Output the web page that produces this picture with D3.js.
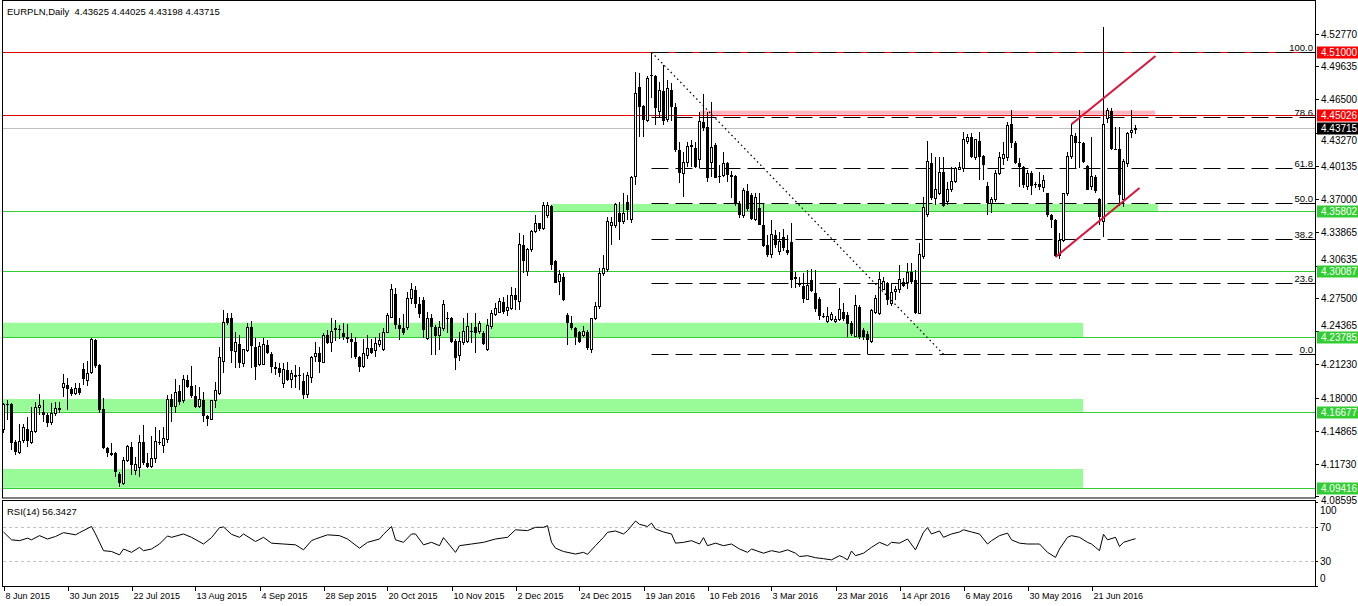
<!DOCTYPE html>
<html><head><meta charset="utf-8">
<script src="https://cdn.jsdelivr.net/npm/d3@7/dist/d3.min.js"></script>
<style>
body{margin:0;background:#fff;}
svg{display:block;font-family:"Liberation Sans",Arial,sans-serif;}
</style>
</head><body>
<svg id="chart" width="1358" height="606"></svg>
<script>
// ---------------- DATA ----------------
const titleText = "EURPLN,Daily";
const lastQuote = ["4.43625", "4.44025", "4.43198", "4.43715"];

const open = [4.1500,4.1745,4.1742,4.1376,4.1278,4.1392,4.1500,4.1373,4.1478,4.1710,4.1666,4.1637,4.1564,4.1653,4.1690,4.1901,4.1923,4.1888,4.1844,4.1891,
4.2076,4.1964,4.2041,4.2352,4.2111,4.1691,4.1319,4.1278,4.1271,4.1074,4.0979,4.1201,4.1328,4.1106,4.1138,4.1376,4.1179,4.1144,4.1224,4.1382,
4.1347,4.1405,4.1786,4.1716,4.1866,4.1774,4.1971,4.1917,4.1821,4.1716,4.1780,4.1627,4.1596,4.1771,4.1844,4.2146,4.2559,4.2559,4.2241,4.2314,
4.2130,4.2251,4.2473,4.2289,4.2114,4.2123,4.2305,4.2219,4.2098,4.2082,4.1939,4.2066,4.1977,4.2015,4.2018,4.1961,4.1828,4.1996,4.2193,4.2225,
4.2139,4.2400,4.2327,4.2458,4.2461,4.2416,4.2384,4.2359,4.2333,4.2187,4.2104,4.2209,4.2273,4.2251,4.2314,4.2257,4.2426,4.2570,4.2790,4.2496,
4.2464,4.2473,4.2750,4.2830,4.2700,4.2734,4.2368,4.2559,4.2473,4.2391,4.2464,4.2565,4.2560,4.2340,4.2200,4.2330,4.2338,4.2443,4.2481,4.2433,
4.2417,4.2258,4.2481,4.2592,4.2614,4.2719,4.2633,4.2656,4.2783,4.2719,4.3260,4.3005,4.3212,4.3387,4.3467,4.3419,4.3537,4.3632,4.3107,4.2910,
4.2958,4.2592,4.2513,4.2465,4.2424,4.2392,4.2433,4.2264,4.2560,4.2672,4.2983,4.3021,4.3441,4.3441,4.3562,4.3482,4.3673,4.3500,4.3913,4.4771,
4.4587,4.4444,4.4880,4.4876,4.4533,4.4730,4.4453,4.4740,4.4581,4.4167,4.3945,4.4050,4.4215,4.4183,4.4078,4.4437,4.4390,4.4050,4.4215,4.3922,
4.3919,4.4040,4.3929,4.3919,4.3650,4.3537,4.3775,4.3740,4.3505,4.3610,4.3451,4.3260,4.3164,4.3355,4.3196,4.3340,4.3212,4.3292,4.2950,4.2894,
4.2869,4.2742,4.2926,4.2805,4.2742,4.2586,4.2529,4.2551,4.2529,4.2544,4.2624,4.2592,4.2519,4.2385,4.2672,4.2449,4.2411,4.2338,4.2614,4.2608,
4.2830,4.2894,4.2697,4.2814,4.2830,4.2910,4.2900,4.3005,4.2926,4.2608,4.3148,4.3547,4.4040,4.3706,4.3747,4.3954,4.3674,4.3785,4.3865,4.3983,
4.3992,4.4246,4.4294,4.4097,4.4256,4.4110,4.3824,4.3658,4.3690,4.3938,4.4087,4.4097,4.4415,4.4230,4.4046,4.4001,4.3817,4.3944,4.3840,4.3840,
4.3811,4.3753,4.3546,4.3498,4.3155,4.3307,4.3747,4.4103,4.4300,4.4240,4.4237,4.4014,4.3817,4.3912,4.3696,4.3480,4.4469,4.4542,4.4180,4.4174,
4.3690,4.4040,4.4332,4.43625];
const high = [4.1748,4.1780,4.1748,4.1400,4.1551,4.1551,4.1621,4.1710,4.1764,4.1834,4.1780,4.1660,4.1748,4.1764,4.1764,4.2028,4.1987,4.1900,4.1939,4.1945,
4.2130,4.2152,4.2368,4.2362,4.2120,4.1796,4.1330,4.1367,4.1280,4.1090,4.1239,4.1351,4.1383,4.1239,4.1446,4.1542,4.1271,4.1437,4.1526,4.1494,
4.1526,4.1828,4.1837,4.1977,4.1923,4.2019,4.2019,4.2104,4.1923,4.1907,4.1859,4.1640,4.1780,4.1955,4.2289,4.2639,4.2607,4.2607,4.2432,4.2400,
4.2270,4.2511,4.2537,4.2368,4.2337,4.2368,4.2352,4.2241,4.2146,4.2130,4.2130,4.2146,4.2066,4.2114,4.2098,4.2034,4.2050,4.2200,4.2337,4.2289,
4.2416,4.2448,4.2559,4.2543,4.2496,4.2511,4.2505,4.2416,4.2384,4.2200,4.2359,4.2400,4.2359,4.2384,4.2416,4.2464,4.2613,4.2890,4.2850,4.2560,
4.2600,4.2810,4.2900,4.2870,4.2760,4.2760,4.2620,4.2600,4.2500,4.2537,4.2734,4.2620,4.2576,4.2360,4.2430,4.2560,4.2608,4.2513,4.2608,4.2529,
4.2440,4.2551,4.2640,4.2710,4.2751,4.2761,4.2783,4.2856,4.2847,4.3371,4.3355,4.3230,4.3403,4.3546,4.3473,4.3673,4.3673,4.3642,4.3117,4.3021,
4.2990,4.2610,4.2583,4.2480,4.2440,4.2487,4.2450,4.2567,4.2719,4.3037,4.3164,4.3530,4.3530,4.3657,4.3673,4.3753,4.3740,4.3920,4.4915,4.4899,
4.4600,4.4876,4.5100,4.4883,4.4819,4.4978,4.4835,4.4803,4.4612,4.4247,4.4151,4.4247,4.4263,4.4247,4.4533,4.4698,4.4533,4.4628,4.4230,4.4024,
4.4151,4.4056,4.3967,4.3929,4.3680,4.3800,4.3840,4.3760,4.3754,4.3760,4.3657,4.3355,4.3498,4.3400,4.3387,4.3410,4.3355,4.3467,4.3000,4.2950,
4.2990,4.3021,4.3028,4.3021,4.2760,4.2608,4.2672,4.2620,4.2580,4.2847,4.2703,4.2624,4.2530,4.2783,4.2690,4.2470,4.2440,4.2650,4.2783,4.3005,
4.2951,4.2910,4.2894,4.2870,4.3069,4.2942,4.3085,4.3085,4.3021,4.3276,4.3722,4.4256,4.4135,4.4103,4.4103,4.4103,4.3865,4.4008,4.4008,4.4056,
4.4342,4.4319,4.4326,4.4269,4.4342,4.4119,4.3860,4.3722,4.3976,4.4151,4.4246,4.4430,4.4548,4.4250,4.4087,4.4010,4.3976,4.3967,4.3865,4.3960,
4.3928,4.3760,4.3560,4.3510,4.3377,4.3760,4.4151,4.4412,4.4326,4.4548,4.4246,4.4024,4.4294,4.3930,4.3710,4.5343,4.4564,4.4564,4.4383,4.4383,
4.4080,4.4342,4.4548,4.44025];
const low = [4.1462,4.1589,4.1303,4.1252,4.1265,4.1370,4.1335,4.1360,4.1462,4.1637,4.1573,4.1526,4.1540,4.1630,4.1653,4.1812,4.1685,4.1818,4.1830,4.1830,
4.1923,4.1914,4.2030,4.2082,4.1659,4.1310,4.1239,4.1245,4.1049,4.0953,4.0969,4.1190,4.1065,4.1065,4.1049,4.1160,4.1130,4.1134,4.1182,4.1351,
4.1278,4.1367,4.1573,4.1659,4.1732,4.1748,4.1890,4.1796,4.1700,4.1700,4.1573,4.1532,4.1589,4.1700,4.1830,4.2041,4.2500,4.2130,4.2082,4.2082,
4.2098,4.2240,4.2082,4.1971,4.2100,4.2110,4.2220,4.2041,4.2019,4.2003,4.1891,4.1960,4.1891,4.1891,4.1875,4.1790,4.1796,4.1945,4.2146,4.2041,
4.2130,4.2310,4.2241,4.2346,4.2359,4.2353,4.2321,4.2178,4.2168,4.2050,4.2082,4.2168,4.2220,4.2194,4.2289,4.2250,4.2420,4.2560,4.2454,4.2353,
4.2400,4.2450,4.2700,4.2660,4.2560,4.2368,4.2353,4.2209,4.2209,4.2257,4.2440,4.2416,4.2322,4.2066,4.2150,4.2300,4.2320,4.2322,4.2226,4.2410,
4.2306,4.2252,4.2460,4.2580,4.2608,4.2600,4.2583,4.2640,4.2640,4.2640,4.2990,4.2967,4.3190,4.3370,4.3390,4.3400,4.3520,4.3021,4.2894,4.2783,
4.2729,4.2306,4.2450,4.2306,4.2322,4.2380,4.2258,4.2226,4.2540,4.2650,4.2960,4.3000,4.3260,4.3420,4.3308,4.3460,4.3500,4.3470,4.3833,4.4294,
4.4294,4.4437,4.4660,4.4406,4.4485,4.4406,4.4437,4.4444,4.4151,4.3849,4.3722,4.4008,4.4008,4.3992,4.3992,4.4349,4.3865,4.3913,4.3897,4.3849,
4.3913,4.3865,4.3706,4.3630,4.3514,4.3520,4.3580,4.3498,4.3490,4.3451,4.3244,4.3142,4.3133,4.3230,4.3164,4.3200,4.3164,4.2847,4.2850,4.2860,
4.2710,4.2735,4.2815,4.2624,4.2544,4.2560,4.2510,4.2530,4.2510,4.2529,4.2530,4.2385,4.2390,4.2385,4.2360,4.2354,4.2216,4.2328,4.2600,4.2590,
4.2830,4.2687,4.2678,4.2735,4.2799,4.2862,4.2837,4.2890,4.2602,4.2602,4.3123,4.3531,4.3690,4.3642,4.3738,4.3626,4.3642,4.3769,4.3849,4.3976,
4.3960,4.4220,4.4088,4.4071,4.3881,4.3881,4.3547,4.3563,4.3674,4.3928,4.4024,4.4060,4.4183,4.4033,4.3817,4.3801,4.3785,4.3738,4.3801,4.3785,
4.3769,4.3530,4.3419,4.3142,4.3123,4.3291,4.3730,4.4080,4.3992,4.3992,4.4040,4.3785,4.3785,4.3753,4.3450,4.3340,4.4420,4.4167,4.4167,4.3630,
4.3626,4.4008,4.4278,4.43198];
const close = [4.1732,4.1735,4.1373,4.1287,4.1386,4.1513,4.1392,4.1478,4.1710,4.1729,4.1634,4.1557,4.1653,4.1697,4.1697,4.1939,4.1882,4.1837,4.1891,4.1844,
4.1977,4.2034,4.2359,4.2108,4.1685,4.1319,4.1278,4.1255,4.1096,4.0991,4.1201,4.1335,4.1157,4.1166,4.1373,4.1176,4.1144,4.1224,4.1386,4.1370,
4.1414,4.1786,4.1716,4.1853,4.1764,4.1971,4.1907,4.1818,4.1710,4.1780,4.1631,4.1596,4.1771,4.1866,4.2187,4.2518,4.2518,4.2251,4.2327,4.2136,
4.2257,4.2473,4.2295,4.2098,4.2289,4.2305,4.2232,4.2092,4.2079,4.2034,4.2066,4.1971,4.2028,4.2018,4.2012,4.1828,4.2009,4.2187,4.2225,4.2146,
4.2400,4.2327,4.2432,4.2464,4.2458,4.2384,4.2359,4.2333,4.2187,4.2098,4.2225,4.2273,4.2232,4.2321,4.2346,4.2426,4.2585,4.2830,4.2496,4.2454,
4.2423,4.2750,4.2830,4.2700,4.2600,4.2448,4.2559,4.2473,4.2391,4.2473,4.2696,4.2555,4.2338,4.2180,4.2340,4.2433,4.2481,4.2436,4.2417,4.2506,
4.2316,4.2487,4.2602,4.2656,4.2719,4.2624,4.2665,4.2773,4.2735,4.3260,4.3107,4.3212,4.3387,4.3467,4.3410,4.3632,4.3632,4.3069,4.2900,4.2974,
4.2735,4.2513,4.2465,4.2385,4.2338,4.2433,4.2274,4.2560,4.2672,4.2983,4.3037,4.3482,4.3473,4.3642,4.3476,4.3562,4.3594,4.3900,4.4708,4.4581,
4.4453,4.4851,4.4870,4.4565,4.4730,4.4444,4.4749,4.4574,4.4167,4.3945,4.4050,4.4199,4.4193,4.4008,4.4437,4.4380,4.3903,4.4190,4.3903,4.3913,
4.4040,4.3929,4.3913,4.3660,4.3546,4.3779,4.3600,4.3505,4.3715,4.3451,4.3250,4.3164,4.3355,4.3260,4.3292,4.3230,4.3187,4.2926,4.2930,4.2878,
4.2742,4.2869,4.2824,4.2646,4.2583,4.2580,4.2576,4.2592,4.2551,4.2640,4.2551,4.2506,4.2411,4.2684,4.2385,4.2385,4.2354,4.2630,4.2751,4.2926,
4.2910,4.2735,4.2805,4.2830,4.2932,4.2869,4.2996,4.2910,4.2608,4.3164,4.3620,4.4056,4.3706,4.3792,4.3954,4.3633,4.3792,4.3865,4.3986,4.3998,
4.4269,4.4288,4.4097,4.4262,4.4103,4.4024,4.3658,4.3696,4.3938,4.4097,4.4128,4.4396,4.4230,4.4040,4.4008,4.3833,4.3944,4.3823,4.3833,4.3817,
4.3871,4.3546,4.3498,4.3155,4.3307,4.3747,4.4103,4.4300,4.4237,4.4237,4.4056,4.3785,4.3912,4.3779,4.3530,4.4407,4.4542,4.4174,4.4174,4.3738,
4.4056,4.4326,4.4351,4.43715];

// RSI(14) values: bar index / value
const rsiBars = [0,2,4,6,7,9,11,13,15,18,19,22,23,25,27,29,30,32,34,35,37,39,41,42,45,47,50,52,54,55,57,59,60,63,65,67,70,73,75,77,78,81,84,86,89,91,94,95,97,98,100,102,103,105,107,109,110,113,114,117,120,123,126,128,131,133,135,136,137,138,140,143,145,146,148,150,151,153,155,156,158,159,161,162,163,165,167,168,170,172,174,175,176,178,180,182,184,186,187,190,192,194,196,198,199,201,203,205,207,209,210,211,212,213,215,217,219,221,222,224,226,228,230,231,232,234,235,237,239,240,242,244,246,247,249,251,252,254,256,258,259,261,263,264,266,267,269,271,272,273,274,275,276,278,279,280,282,283];
const rsiValues = [64.4,55,54,57,55,60,56,59,63.6,61,63.6,71,62,42,41,37,44,40,46,42,44,50,59.6,58,62,58,50,57.6,69.6,70.4,61.6,58,62,53,58,51,50,49,43,54,56,61,60,56,45,52,56,61.6,71,55,52,62,62,49,52,48,57.6,40,48,50,52,56,58,67,66,70,70,72,52,45,41,38,40,37.6,48,58,64,65.6,62,66,77.6,73.6,71,75,68,64.4,62,51,52,54,50,57.6,48,51,48,50,44,40,44,39,42,40,43,39,35,36,33.6,32.4,31,36,34,31,41.6,36,39,46,52,48,52,51,56,43,64,69.6,62,65.6,58,62,64.4,67,64.4,62,50,54,60,63,55,51,50,50,50,40,34,44,58,60,58,52,50,46,42,61.6,55,58,47,52,55,56.3427];
const rsiLabel = "RSI(14) 56.3427";
const rsiLevels = [70, 30];
const rsiAxisLabels = [100, 70, 30, 0];

// time axis: a label every 16 bars starting at bar 0
const dateLabels = ["8 Jun 2015","30 Jun 2015","22 Jul 2015","13 Aug 2015","4 Sep 2015","28 Sep 2015","20 Oct 2015","10 Nov 2015","2 Dec 2015","24 Dec 2015","19 Jan 2016","10 Feb 2016","3 Mar 2016","23 Mar 2016","14 Apr 2016","6 May 2016","30 May 2016","21 Jun 2016"];
const dateLabelStep = 16;

// price axis labels
const priceTicks = ["4.52770","4.49635","4.46500","4.43270","4.40135","4.37000","4.33865","4.30635","4.27500","4.24365","4.21230","4.18000","4.14865","4.11730","4.08595"];

// horizontal levels
const redLevels = [4.51000, 4.45026];
const bidLevel = 4.43715;
const greenLevels = [4.35802, 4.30087, 4.23785, 4.16677, 4.09416];

// zones: [priceLow, priceHigh, barFrom, barTo]
const greenZones = [[4.23785,4.2517,-1,269.9],[4.16677,4.1789,-1,269.9],[4.09416,4.1121,-1,269.9],[4.35802,4.3651,136.9,288.6]];
const pinkZones = [[4.45026,4.4543,174.1,287.9]];

// fibonacci retracement
const fibHigh = 4.5100, fibLow = 4.2216;
const fibFromBar = 162, fibToBar = 235;
const fibLevels = [0, 23.6, 38.2, 50, 61.8, 78.6, 100];

// channel lines [bar, price]
const channelUpper = [[267, 4.4412], [288, 4.5064]];
const channelLower = [[263, 4.3145], [284, 4.3803]];

// ---------------- DRAW ----------------
const svg = d3.select("#chart");
const W = 1358;
const L = 2, R = 1315;
const mainTop = 1, mainBot = 498;
const rsiTop = 500, rsiBot = 586;

const x = d3.scaleLinear().domain([0, 327.875]).range([3.5, R]);
const y = d3.scaleLinear().domain([4.08440, 4.55887]).range([mainBot, mainTop]);
const yr = d3.scaleLinear().domain([0, 100]).range([585.75, 502.25]);

svg.append("rect").attr("width", W).attr("height", 606).attr("fill", "#fff");

const defs = svg.append("defs");
defs.append("clipPath").attr("id", "mainclip").append("rect")
  .attr("x", L).attr("y", mainTop).attr("width", R - L).attr("height", mainBot - mainTop);
const gMain = svg.append("g").attr("clip-path", "url(#mainclip)");

// zones
gMain.selectAll("rect.gz").data(greenZones).join("rect")
  .attr("x", d => Math.max(L, x(d[2]))).attr("width", d => x(d[3]) - Math.max(L, x(d[2])))
  .attr("y", d => y(d[1])).attr("height", d => y(d[0]) - y(d[1]))
  .attr("fill", "#98FB98");
gMain.selectAll("rect.pz").data(pinkZones).join("rect")
  .attr("x", d => x(d[2])).attr("width", d => x(d[3]) - x(d[2]))
  .attr("y", d => y(d[1])).attr("height", d => y(d[0]) - y(d[1]))
  .attr("fill", "#FFB6C1");

const hline = (p, color, dash) => gMain.append("line")
  .attr("x1", L).attr("x2", R)
  .attr("y1", Math.round(y(p)) + 0.5).attr("y2", Math.round(y(p)) + 0.5)
  .attr("stroke", color).attr("stroke-width", 1)
  .attr("stroke-dasharray", dash || null);

greenLevels.forEach(p => hline(p, "#32CD32"));
hline(bidLevel, "#C0C0C0");
redLevels.forEach(p => hline(p, "#E00000"));

// fib lines
const fibPrice = lv => fibLow + (fibHigh - fibLow) * lv / 100;
fibLevels.forEach(lv => {
  const yy = Math.round(y(fibPrice(lv))) + 0.5;
  gMain.append("line").attr("x1", x(fibFromBar)).attr("x2", R)
    .attr("y1", yy).attr("y2", yy)
    .attr("stroke", "#000").attr("stroke-width", 1).attr("stroke-dasharray", "17,7");
  gMain.append("text").attr("x", R - 2).attr("y", yy - 2)
    .attr("text-anchor", "end").attr("font-size", 9.5).attr("fill", "#000")
    .text(lv.toFixed(1));
});

// candles
const bars = d3.range(open.length);
const gC = gMain.append("g").attr("shape-rendering", "crispEdges");
gC.selectAll("line.w").data(bars).join("line")
  .attr("x1", i => x(i)).attr("x2", i => x(i))
  .attr("y1", i => y(high[i])).attr("y2", i => y(low[i]))
  .attr("stroke", "#000").attr("stroke-width", 1);
gC.selectAll("rect.b").data(bars).join("rect")
  .attr("x", i => close[i] >= open[i] ? x(i) - 1 : x(i) - 1.5)
  .attr("width", i => close[i] >= open[i] ? 2 : 3)
  .attr("y", i => y(Math.max(open[i], close[i])))
  .attr("height", i => Math.max(1, y(Math.min(open[i], close[i])) - y(Math.max(open[i], close[i]))))
  .attr("fill", i => close[i] >= open[i] ? "#fff" : "#000")
  .attr("stroke", i => close[i] >= open[i] ? "#000" : "none")
  .attr("stroke-width", 1);

// fib trend dotted line
gMain.append("line")
  .attr("x1", x(fibFromBar)).attr("y1", y(fibHigh))
  .attr("x2", x(fibToBar)).attr("y2", y(fibLow))
  .attr("stroke", "#000").attr("stroke-width", 1.2).attr("stroke-dasharray", "1.6,3");

// channel
[channelUpper, channelLower].forEach(c => {
  gMain.append("line")
    .attr("x1", x(c[0][0])).attr("y1", y(c[0][1]))
    .attr("x2", x(c[1][0])).attr("y2", y(c[1][1]))
    .attr("stroke", "#DC143C").attr("stroke-width", 2);
});

// frames
svg.append("rect").attr("x", L + 0.5).attr("y", mainTop - 0.5).attr("width", R - L).attr("height", mainBot - mainTop + 0.5)
  .attr("fill", "none").attr("stroke", "#000");
svg.append("rect").attr("x", L + 0.5).attr("y", rsiTop + 0.5).attr("width", R - L).attr("height", rsiBot - rsiTop)
  .attr("fill", "none").attr("stroke", "#000");

// title
svg.append("text").attr("x", 7).attr("y", 15).attr("font-size", 9.5).attr("fill", "#000")
  .attr("xml:space", "preserve")
  .text(titleText + "  " + lastQuote.join(" "));

// price axis; tick labels that would sit under a coloured tag are moved just clear of it
const tagLevels = greenLevels.concat(redLevels, [bidLevel]);
const tagYs = tagLevels.map(p => Math.round(y(p)) + 0.5);
const tagH = 12;
const gA = svg.append("g");
priceTicks.forEach(t => {
  const yy = Math.round(y(+t)) + 0.5;
  gA.append("line").attr("x1", R).attr("x2", R + 4).attr("y1", yy).attr("y2", yy).attr("stroke", "#000");
  let base = Math.max(yy, mainTop + 8) + 3.5;
  tagYs.forEach(ty => {
    const top = ty - tagH / 2, bot = ty + tagH / 2;
    if (base + 2 > top && base - 9 < bot) {
      base = (yy <= ty) ? top - 2.5 : bot + 9.5;
    }
  });
  gA.append("text").attr("x", R + 6).attr("y", base).attr("font-size", 10).attr("fill", "#000").text(t);
});

// coloured price labels
const tag = (p, bg) => {
  const yy = Math.round(y(p)) + 0.5;
  gA.append("rect").attr("x", R + 2).attr("y", yy - tagH / 2).attr("width", W - R - 2).attr("height", tagH).attr("fill", bg);
  gA.append("text").attr("x", R + 6).attr("y", yy + 3.5).attr("font-size", 10).attr("fill", "#fff").text(p.toFixed(5));
};
greenLevels.forEach(p => tag(p, "#32CD32"));
redLevels.forEach(p => tag(p, "#FF0000"));
tag(bidLevel, "#000000");

// RSI pane
const gR = svg.append("g");
rsiLevels.forEach(v => {
  gR.append("line").attr("x1", L + 1).attr("x2", R).attr("y1", Math.round(yr(v)) + 0.5).attr("y2", Math.round(yr(v)) + 0.5)
    .attr("stroke", "#C0C0C0").attr("stroke-dasharray", "3,3");
});
const rsiLine = d3.line().x((d, k) => x(rsiBars[k])).y(d => yr(d));
gR.append("path").datum(rsiValues).attr("d", rsiLine).attr("fill", "none").attr("stroke", "#000").attr("stroke-width", 1);
gR.append("text").attr("x", 7).attr("y", 515).attr("font-size", 9.5).attr("fill", "#000").text(rsiLabel);
rsiAxisLabels.forEach(v => {
  const yy = Math.round(yr(v));
  const ty = Math.min(Math.max(yy, rsiTop + 10), rsiBot - 8);
  gR.append("line").attr("x1", R).attr("x2", R + 3).attr("y1", yy + 0.5).attr("y2", yy + 0.5).attr("stroke", "#000");
  gR.append("text").attr("x", R + 5).attr("y", ty + 3.5).attr("font-size", 10).attr("fill", "#000").text(v);
});

// time axis
const gT = svg.append("g");
dateLabels.forEach((t, k) => {
  const xx = Math.round(x(k * dateLabelStep)) + 0.5;
  gT.append("line").attr("x1", xx).attr("x2", xx).attr("y1", rsiBot).attr("y2", rsiBot + 5).attr("stroke", "#000");
  gT.append("text").attr("x", xx + 1).attr("y", 599).attr("font-size", 9).attr("fill", "#000").text(t);
});
</script>
</body></html>
